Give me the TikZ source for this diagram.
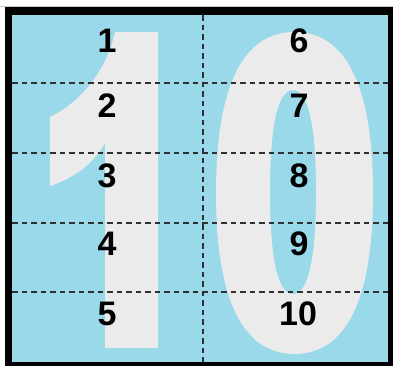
\documentclass[tikz,border=0pt]{standalone}
\usepackage{fontspec}
\setmainfont{Liberation Sans}
\definecolor{skyfill}{HTML}{99D9EA}
\definecolor{glyphgray}{HTML}{EBEBEB}
\definecolor{gridline}{HTML}{303030}
\begin{document}
\begin{tikzpicture}[x=1pt,y=-1pt,
  digit/.style={font=\fontsize{34}{34}\selectfont\bfseries, inner sep=0pt, text=black},
  gridrule/.style={gridline, line width=1.3pt, dash pattern=on 5.5pt off 4pt},
  bigglyph/.style={fill=glyphgray}]
\useasboundingbox (0,0) rectangle (393,365);
\fill[white] (0,0) rectangle (393,365);
\draw[black!22, line width=0.8pt] (0,6.5) -- (393,6.5);
\fill[black] (5,7) rectangle (396,369);
\fill[skyfill] (12,15) rectangle (388,362);
% big "1"
\path[bigglyph] (115,32) -- (158,32) -- (158,348) -- (105,348) -- (105,143)
  .. controls (95,162) and (75,178) .. (50,186) -- (50,117)
  .. controls (85,100) and (108,65) .. (115,32) -- cycle;
% big "0"
\path[bigglyph, even odd rule]
  (294.5,32) .. controls (346.3,32) and (373,86.7) .. (373,193)
  .. controls (373,299.3) and (346.3,354) .. (294.5,354)
  .. controls (242.7,354) and (216,299.3) .. (216,193)
  .. controls (216,86.7) and (242.7,32) .. (294.5,32) -- cycle
  (293,90) .. controls (308.2,90) and (316,124.7) .. (316,192)
  .. controls (316,259.3) and (308.2,294) .. (293,294)
  .. controls (277.8,294) and (270,259.3) .. (270,192)
  .. controls (270,124.7) and (277.8,90) .. (293,90) -- cycle;
% grid
\coordinate (hl1) at (12,83);  \coordinate (hr1) at (388,83);
\coordinate (hl2) at (12,153); \coordinate (hr2) at (388,153);
\coordinate (hl3) at (12,223); \coordinate (hr3) at (388,223);
\coordinate (hl4) at (12,292); \coordinate (hr4) at (388,292);
\coordinate (vt) at (203,15);  \coordinate (vb) at (203,362);
\foreach \i in {1,...,4} { \draw[gridrule] (hl\i) -- (hr\i); }
\draw[gridrule] (vt) -- (vb);
% digits
\node[digit] (n1) at (107,41) {1};
\node[digit] (n2) at (107,106) {2};
\node[digit] (n3) at (107,176) {3};
\node[digit] (n4) at (107,244) {4};
\node[digit] (n5) at (107,314) {5};
\node[digit] (n6) at (299,41) {6};
\node[digit] (n7) at (299,106) {7};
\node[digit] (n8) at (299,176) {8};
\node[digit] (n9) at (299,244) {9};
\node[digit] (n10) at (298,314) {10};
\end{tikzpicture}
\end{document}
